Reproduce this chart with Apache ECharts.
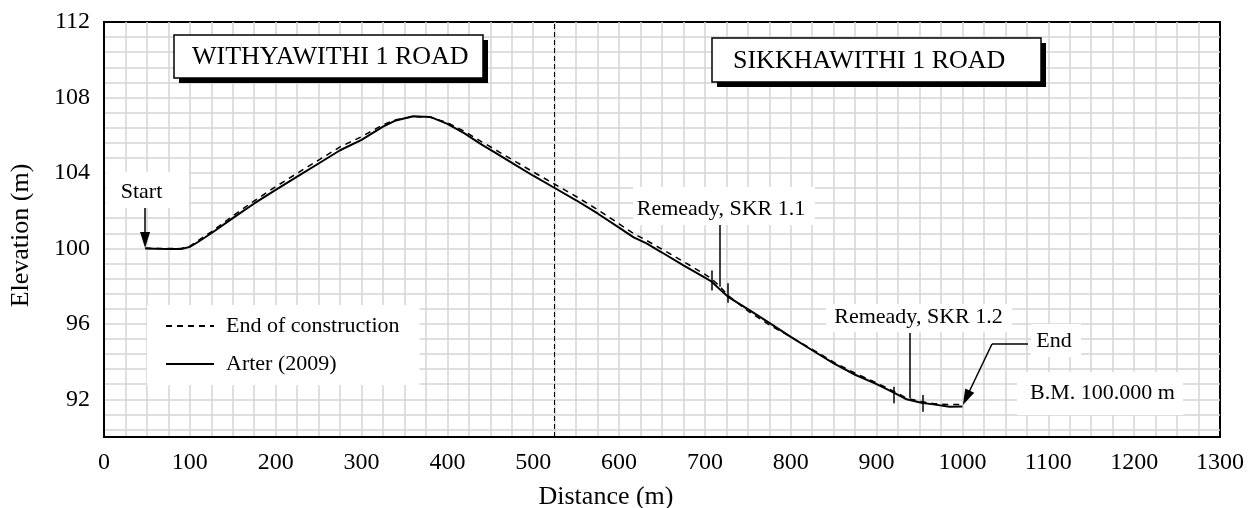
<!DOCTYPE html>
<html>
<head>
<meta charset="utf-8">
<script src="https://cdn.jsdelivr.net/npm/echarts@6/dist/echarts.min.js"></script>
<style>
html,body{margin:0;padding:0;background:#fff;}
#chart{width:1251px;height:508px;}
</style>
</head>
<body>
<div id="chart"></div>
<script>
// ---- data ----
const distance = [48, 60, 75, 90, 100, 110, 125, 150, 175, 200, 225, 250, 275, 300, 325, 340, 360, 380, 400, 420, 440, 460, 480, 500, 525, 550, 575, 600, 617, 632, 650, 675, 700, 708, 718, 727, 750, 775, 800, 825, 850, 875, 900, 920, 935, 952, 966, 985, 1000];
const endOfConstruction = [100.0, 100.0, 99.99, 99.99, 100.12, 100.42, 100.88, 101.72, 102.52, 103.27, 103.98, 104.68, 105.38, 105.92, 106.55, 106.82, 106.98, 106.95, 106.66, 106.2, 105.65, 105.12, 104.58, 104.05, 103.4, 102.75, 102.05, 101.3, 100.78, 100.42, 99.95, 99.3, 98.62, 98.38, 97.95, 97.5, 96.68, 95.95, 95.3, 94.65, 93.97, 93.38, 92.87, 92.42, 92.06, 91.88, 91.77, 91.72, 91.72];
const arter2009 = [99.99, 99.98, 99.97, 99.97, 100.08, 100.35, 100.8, 101.6, 102.38, 103.1, 103.8, 104.5, 105.2, 105.75, 106.45, 106.78, 107.0, 106.97, 106.6, 106.1, 105.5, 104.96, 104.4, 103.85, 103.2, 102.55, 101.85, 101.1, 100.58, 100.26, 99.78, 99.1, 98.45, 98.23, 97.8, 97.43, 96.78, 96.05, 95.31, 94.6, 93.9, 93.3, 92.8, 92.35, 92.0, 91.82, 91.73, 91.6, 91.62];
const seriesNames = ['End of construction', 'Arter (2009)'];
const roadNames = ['WITHYAWITHI 1 ROAD', 'SIKKHAWITHI 1 ROAD'];
const dividerX = 525;
// remedy tick marks: [x, yTop, yBottom]
const remedyTicks = [[708, 98.82, 97.76], [726.5, 98.15, 97.12], [920, 92.67, 91.79], [953.5, 92.23, 91.34]];
// leader lines: [x, yTop, yBottom]
const leaderLines = [[717.5, 101.24, 97.97], [938.5, 95.51, 92.07]];
const startArrow = [[47.8, 102.14], [47.8, 100.44]];
const endLeader = [[1076.3, 94.93], [1034.4, 94.93], [1004.5, 92.08]];

const FONT = 'Liberation Serif';
const chart = echarts.init(document.getElementById('chart'));

const annoLines = [];
remedyTicks.forEach(t => annoLines.push([{coord: [t[0], t[1]]}, {coord: [t[0], t[2]]}]));
leaderLines.forEach(t => annoLines.push([{coord: [t[0], t[1]]}, {coord: [t[0], t[2]]}]));
annoLines.push([{coord: startArrow[0]}, {coord: startArrow[1], symbol: 'triangle', symbolSize: [10, 16]}]);
annoLines.push([{coord: endLeader[0]}, {coord: endLeader[1]}]);
annoLines.push([{coord: endLeader[1]}, {coord: endLeader[2], symbol: 'triangle', symbolSize: [10, 16]}]);

function whiteBox(x, y, w, h) {
  return {type: 'rect', z: 50, shape: {x: x, y: y, width: w, height: h}, style: {fill: '#fff'}, silent: true};
}
function txt(s, x, y, size, align) {
  return {type: 'text', z: 60, silent: true, style: {text: s, x: x, y: y, align: align || 'center', verticalAlign: 'middle', font: size + 'px "' + FONT + '"', fill: '#000'}};
}

const option = {
  animation: false,
  backgroundColor: '#fff',
  grid: [
    {left: 104, right: 31, top: 22, bottom: 71, outerBoundsMode: 'none', containLabel: false, show: true, borderColor: '#000', borderWidth: 2, backgroundColor: 'transparent'},
    {left: 104, right: 31, top: 22, bottom: 71 + 0.4 * (415 / 22), outerBoundsMode: 'none', containLabel: false}
  ],
  xAxis: [
    {
      gridIndex: 0, type: 'value', min: 0, max: 1300, interval: 25,
      name: 'Distance (m)', nameLocation: 'middle', nameGap: 47,
      nameTextStyle: {fontFamily: FONT, fontSize: 26, color: '#000', padding: [0, 112, 0, 0]},
      axisLine: {show: true, lineStyle: {color: '#000', width: 2}},
      axisTick: {show: false},
      axisLabel: {fontFamily: FONT, fontSize: 24, color: '#000', margin: 14,
        formatter: v => (Math.round(v) % 100 === 0 ? String(Math.round(v)) : '')},
      splitLine: {show: true, showMinLine: false, showMaxLine: false, lineStyle: {color: '#d4d4d4', width: 1.5}}
    },
    {gridIndex: 1, type: 'value', min: 0, max: 1300, show: false}
  ],
  yAxis: [
    {
      gridIndex: 0, type: 'value', min: 90, max: 112,
      name: 'Elevation (m)', nameLocation: 'middle', nameGap: 70,
      nameTextStyle: {fontFamily: FONT, fontSize: 26, color: '#000', padding: [0, 12, 0, 0]},
      axisLine: {show: true, lineStyle: {color: '#000', width: 2}},
      axisTick: {show: false},
      axisLabel: {show: false},
      splitLine: {show: false}
    },
    {
      gridIndex: 1, type: 'value', min: 90.4, max: 112, interval: 0.8,
      axisLine: {show: false}, axisTick: {show: false},
      axisLabel: {fontFamily: FONT, fontSize: 24, color: '#000', margin: 14,
        formatter: v => { const r = Math.round(v * 10) / 10; return (r % 4 === 0) ? String(r) : ''; }},
      splitLine: {show: true, showMaxLine: false, lineStyle: {color: '#d4d4d4', width: 1.5}}
    }
  ],
  legend: {
    show: true, orient: 'vertical', left: 147, top: 305,
    backgroundColor: '#fff', padding: [10, 20, 10, 18],
    itemWidth: 48, itemHeight: 14, itemGap: 16,
    itemStyle: {opacity: 0, borderWidth: 0},
    textStyle: {fontFamily: FONT, fontSize: 22, color: '#000', padding: [0, 0, 0, 7]},
    data: seriesNames
  },
  series: [
    {
      name: seriesNames[0], type: 'line', xAxisIndex: 0, yAxisIndex: 0, z: 3,
      symbol: 'none', showSymbol: false,
      lineStyle: {color: '#000', width: 1.5, type: [6, 5]},
      itemStyle: {color: '#000'},
      data: distance.map((x, i) => [x, endOfConstruction[i]])
    },
    {
      name: seriesNames[1], type: 'line', xAxisIndex: 0, yAxisIndex: 0, z: 4,
      symbol: 'none', showSymbol: false,
      lineStyle: {color: '#000', width: 2, type: 'solid'},
      itemStyle: {color: '#000'},
      data: distance.map((x, i) => [x, arter2009[i]]),
      markLine: {
        silent: true, animation: false, symbol: ['none', 'none'],
        label: {show: false},
        lineStyle: {color: '#000', type: 'solid', width: 1.5},
        emphasis: {disabled: true},
        data: annoLines.concat([{xAxis: dividerX, lineStyle: {type: [5, 3], width: 1}}])
      }
    },
    {type: 'line', xAxisIndex: 1, yAxisIndex: 1, data: [], silent: true}
  ],
  graphic: [
    // road title boxes
    {type: 'rect', z: 50, silent: true, shape: {x: 179, y: 40, width: 309, height: 43}, style: {fill: '#000'}},
    {type: 'rect', z: 51, silent: true, shape: {x: 174, y: 35, width: 309, height: 43}, style: {fill: '#fff', stroke: '#000', lineWidth: 1.5}},
    txt(roadNames[0], 192, 57, 26, 'left'),
    {type: 'rect', z: 50, silent: true, shape: {x: 717, y: 43, width: 329, height: 44}, style: {fill: '#000'}},
    {type: 'rect', z: 51, silent: true, shape: {x: 712, y: 38, width: 329, height: 44}, style: {fill: '#fff', stroke: '#000', lineWidth: 1.5}},
    txt(roadNames[1], 733, 61, 26, 'left'),
    // annotation labels
    whiteBox(106, 172, 83, 36), txt('Start', 141.5, 192, 22),
    whiteBox(633, 187, 182, 38), txt('Remeady, SKR 1.1', 721, 209, 22),
    whiteBox(826, 304, 186, 28), txt('Remeady, SKR 1.2', 918.5, 317, 22),
    whiteBox(1031, 324, 50, 33), txt('End', 1054, 341, 22),
    whiteBox(1017, 372, 166, 43), txt('B.M. 100.000 m', 1102.5, 393, 22)
  ]
};
chart.setOption(option);
</script>
</body>
</html>
